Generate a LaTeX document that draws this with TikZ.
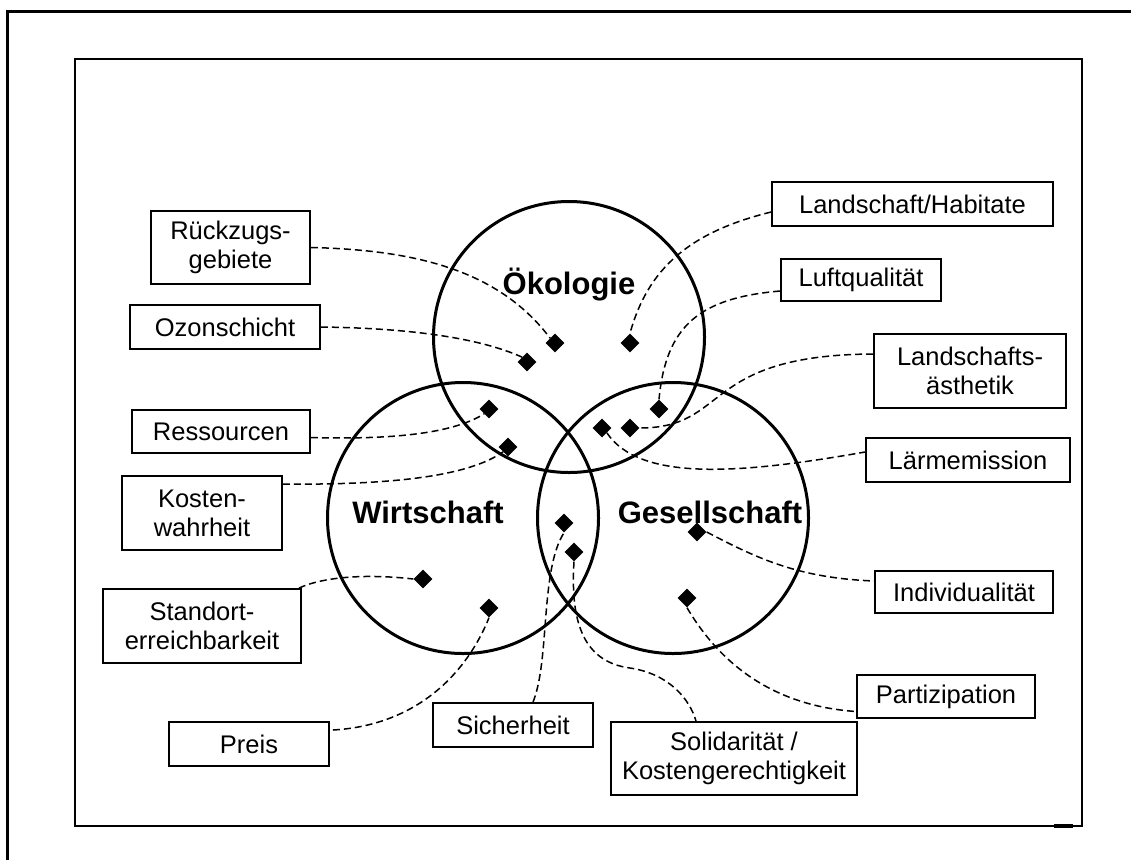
\documentclass[tikz,border=0pt]{standalone}
\usepackage{fontspec}
\setmainfont{Liberation Sans}
\usetikzlibrary{shapes.geometric,calc}
\begin{document}
\begin{tikzpicture}[x=1pt,y=-1pt,
  box/.style={draw, line width=1.8pt, inner sep=0pt, align=center, font=\fontsize{25.5}{29}\selectfont},
  dia/.style={shape=diamond, fill=black, inner sep=0pt, minimum size=19pt},
  conn/.style={line width=1.5pt, dash pattern=on 7pt off 4pt},
  ring/.style={circle, draw, line width=3pt, minimum size=271pt, inner sep=0pt},
  title/.style={font=\bfseries\fontsize{31}{35}\selectfont}]
\useasboundingbox (0,0) rectangle (1131,860);
% frames
\draw[line width=3pt] (7,860) -- (7,11) -- (1131,11);
\draw[line width=2pt] (75,59) rectangle (1082,826);
\draw[line width=3.5pt] (1054,826) -- (1073,826);
% circles
\node[ring] (oek) at (569,337) {};
\node[ring] (wir) at (463,518) {};
\node[ring] (ges) at (673,518) {};
\node[title] (toek) at (569,285) {Ökologie};
\node[title] (twir) at (428,512) {Wirtschaft};
\node[title] (tges) at (710,512) {Gesellschaft};
% boxes
\node[box, minimum width=159pt, minimum height=73pt] (rz) at (230.5,247.5) {Rückzugs-\\gebiete};
\node[box, minimum width=190pt, minimum height=44pt] (oz) at (225,327) {Ozonschicht};
\node[box, minimum width=178pt, minimum height=43pt] (rs) at (221,431.5) {Ressourcen};
\node[box, minimum width=160pt, minimum height=74pt] (ko) at (202,513) {Kosten-\\wahrheit};
\node[box, minimum width=198pt, minimum height=74pt] (st) at (202,626) {Standort-\\erreichbarkeit};
\node[box, minimum width=160pt, minimum height=44pt] (pr) at (249,744) {Preis};
\node[box, minimum width=160pt, minimum height=44pt] (si) at (513,725) {Sicherheit};
\node[box, minimum width=246pt, minimum height=73pt] (so) at (734,758.5) {Solidarität /\\Kostengerechtigkeit};
\node[box, minimum width=178pt, minimum height=43pt] (pa) at (946,696.5) {Partizipation};
\node[box, minimum width=178pt, minimum height=42pt] (ind) at (964,592) {Individualität};
\node[box, minimum width=204pt, minimum height=44pt] (lm) at (968,460) {Lärmemission};
\node[box, minimum width=192pt, minimum height=74pt] (la) at (970,371) {Landschafts-\\ästhetik};
\node[box, minimum width=160pt, minimum height=42pt] (lq) at (861,280) {Luftqualität};
\node[box, minimum width=281pt, minimum height=44pt] (lh) at (912.5,204) {Landschaft/Habitate};
% diamonds
\node[dia] (d1) at (555,343) {};
\node[dia] (d2) at (527,362) {};
\node[dia] (d3) at (489,409) {};
\node[dia] (d4) at (508,447) {};
\node[dia] (d5) at (630,343) {};
\node[dia] (d6) at (659,409) {};
\node[dia] (d7) at (630,428) {};
\node[dia] (d8) at (602,428) {};
\node[dia] (d9) at (564,523) {};
\node[dia] (d10) at (574,552) {};
\node[dia] (d11) at (697,532) {};
\node[dia] (d12) at (687,598) {};
\node[dia] (d13) at (423,579) {};
\node[dia] (d14) at (489,608) {};
% connectors
\draw[conn] (rz.east) .. controls (420,250) and (500,272) .. (d1.north west);
\draw[conn] (oz.east) .. controls (400,328) and (475,336) .. (d2.north west);
\draw[conn] ($(rs.east)+(0,6)$) .. controls (400,440) and (455,432) .. (d3.south west);
\draw[conn] ($(ko.north east)+(0,9)$) .. controls (400,485) and (470,475) .. (d4.south west);
\draw[conn] ($(lh.west)+(0,8)$) .. controls (690,232) and (648,268) .. (d5.north);
\draw[conn] ($(lq.west)+(0,11)$) .. controls (700,298) and (666,325) .. (d6.north);
\draw[conn] ($(la.west)+(0,-17)$) .. controls (700,355) and (730,428) .. (d7.east);
\draw[conn] (d8.south east) .. controls (640,482) and (740,474) .. ($(lm.west)+(0,-8)$);
\draw[conn] ($(si.north)+(20,0)$) .. controls (550,660) and (540,570) .. (d9.south);
\draw[conn] (d10.south) .. controls (570,625) and (585,662) .. (630,668) .. controls (670,674) and (690,700) .. ($(so.north)+(-38,0)$);
\draw[conn] (d11.east) .. controls (760,560) and (800,578) .. ($(ind.west)+(0,-11)$);
\draw[conn] (d12.south) .. controls (712,650) and (760,705) .. ($(pa.west)+(0,15)$);
\draw[conn] ($(st.north east)+(-3,0)$) .. controls (325,576) and (370,574) .. (d13.west);
\draw[conn] ($(pr.east)+(3,-14)$) .. controls (420,725) and (468,670) .. (d14.south);
\end{tikzpicture}
\end{document}
